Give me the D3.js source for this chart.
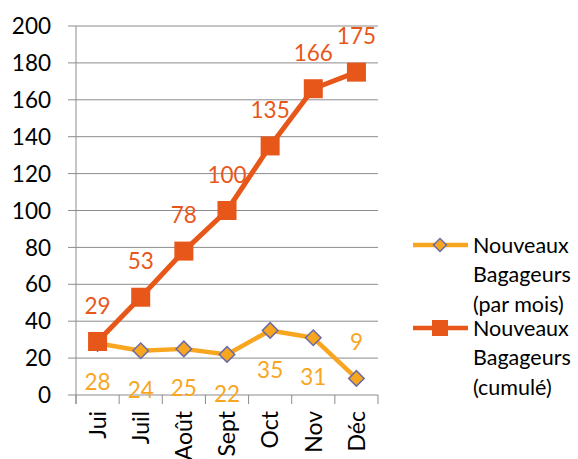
<!DOCTYPE html>
<html>
<head>
<meta charset="utf-8">
<script src="https://cdn.jsdelivr.net/npm/d3@7"></script>
<style>
  body { margin: 0; background: #fff; }
  text { font-family: Lato, "Open Sans", sans-serif; }
</style>
</head>
<body>
<div id="chart"></div>
<script>
const months = ["Jui", "Juil", "Août", "Sept", "Oct", "Nov", "Déc"];
const monthly = [28, 24, 25, 22, 35, 31, 9];
const cumulative = [29, 53, 78, 100, 135, 166, 175];
const yTicks = [0, 20, 40, 60, 80, 100, 120, 140, 160, 180, 200];
const legendMonthly = ["Nouveaux", "Bagageurs", "(par mois)"];
const legendCumul = ["Nouveaux", "Bagageurs", "(cumulé)"];

const width = 578;
const height = 459;
const orange = "#e8571a";
const yellow = "#f8a61f";
const grid = "#8c8c8c";

const svg = d3.select("#chart").append("svg")
  .attr("width", width).attr("height", height);

const x = d3.scaleBand().domain(months).range([76, 378]);
const y = d3.scaleLinear().domain([0, 200]).range([395, 26]);
const cx = d => x(d) + x.bandwidth() / 2;

// gridlines + y ticks
svg.append("g").selectAll("line").data(yTicks).enter().append("line")
  .attr("x1", 68).attr("x2", 378)
  .attr("y1", d => y(d)).attr("y2", d => y(d))
  .attr("stroke", grid).attr("stroke-width", 1);

svg.append("g").selectAll("text").data(yTicks).enter().append("text")
  .attr("x", 51).attr("y", d => y(d))
  .attr("dy", "0.36em").attr("text-anchor", "end")
  .attr("font-size", 22.5).attr("fill", "#000")
  .text(d => d);

// y axis
svg.append("line").attr("x1", 76).attr("x2", 76)
  .attr("y1", y(200)).attr("y2", 404)
  .attr("stroke", grid);

// x axis ticks at band boundaries
const bounds = months.map(m => x(m)).concat([x.range()[1]]);
svg.append("g").selectAll("line").data(bounds).enter().append("line")
  .attr("x1", d => d).attr("x2", d => d)
  .attr("y1", 395).attr("y2", 404)
  .attr("stroke", grid);

svg.append("g").selectAll("text").data(months).enter().append("text")
  .attr("transform", d => `translate(${cx(d)},411) rotate(-90)`)
  .attr("dy", "0.36em").attr("text-anchor", "end")
  .attr("font-size", 23).attr("fill", "#000")
  .text(d => d);

const line = d3.line().x((d, i) => cx(months[i])).y(d => y(d));

// monthly series
svg.append("path").datum(monthly).attr("d", line)
  .attr("fill", "none").attr("stroke", yellow).attr("stroke-width", 4.5)
  .attr("stroke-linejoin", "round");
const diamond = d3.symbol().type(d3.symbolSquare).size(120);
svg.append("g").selectAll("path").data(monthly).enter().append("path")
  .attr("d", diamond)
  .attr("transform", (d, i) => `translate(${cx(months[i])},${y(d)}) rotate(45)`)
  .attr("fill", yellow).attr("stroke", "#6b6ba6").attr("stroke-width", 1.5);

// cumulative series
svg.append("path").datum(cumulative).attr("d", line)
  .attr("fill", "none").attr("stroke", orange).attr("stroke-width", 5)
  .attr("stroke-linejoin", "round");
svg.append("g").selectAll("rect").data(cumulative).enter().append("rect")
  .attr("x", (d, i) => cx(months[i]) - 9.5).attr("y", d => y(d) - 9.5)
  .attr("width", 19).attr("height", 19)
  .attr("fill", orange);

// data labels
svg.append("g").selectAll("text").data(cumulative).enter().append("text")
  .attr("x", (d, i) => cx(months[i])).attr("y", d => y(d) - 36)
  .attr("dy", "0.36em").attr("text-anchor", "middle")
  .attr("font-size", 22.5).attr("fill", orange)
  .text(d => d);

svg.append("g").selectAll("text").data(monthly).enter().append("text")
  .attr("x", (d, i) => cx(months[i]))
  .attr("y", d => d < 15 ? y(d) - 36 : y(d) + 39)
  .attr("dy", "0.36em").attr("text-anchor", "middle")
  .attr("font-size", 22.5).attr("fill", yellow)
  .text(d => d);

// legend
const legend = svg.append("g");
function legendItem(y0, color, lines, marker) {
  legend.append("line").attr("x1", 413).attr("x2", 468)
    .attr("y1", y0).attr("y2", y0)
    .attr("stroke", color).attr("stroke-width", 4.5);
  if (marker === "diamond") {
    legend.append("path").attr("d", d3.symbol().type(d3.symbolSquare).size(85))
      .attr("transform", `translate(440,${y0}) rotate(45)`)
      .attr("fill", color).attr("stroke", "#6b6ba6").attr("stroke-width", 1.5);
  } else {
    legend.append("rect").attr("x", 432).attr("y", y0 - 8)
      .attr("width", 16).attr("height", 16).attr("fill", color);
  }
  legend.selectAll(null).data(lines).enter().append("text")
    .attr("x", 473).attr("y", (d, i) => y0 + i * 29.5)
    .attr("dy", "0.36em").attr("font-size", 21.5).attr("fill", "#000")
    .text(d => d);
}
legendItem(245, yellow, legendMonthly, "diamond");
legendItem(328, orange, legendCumul, "square");
</script>
</body>
</html>
